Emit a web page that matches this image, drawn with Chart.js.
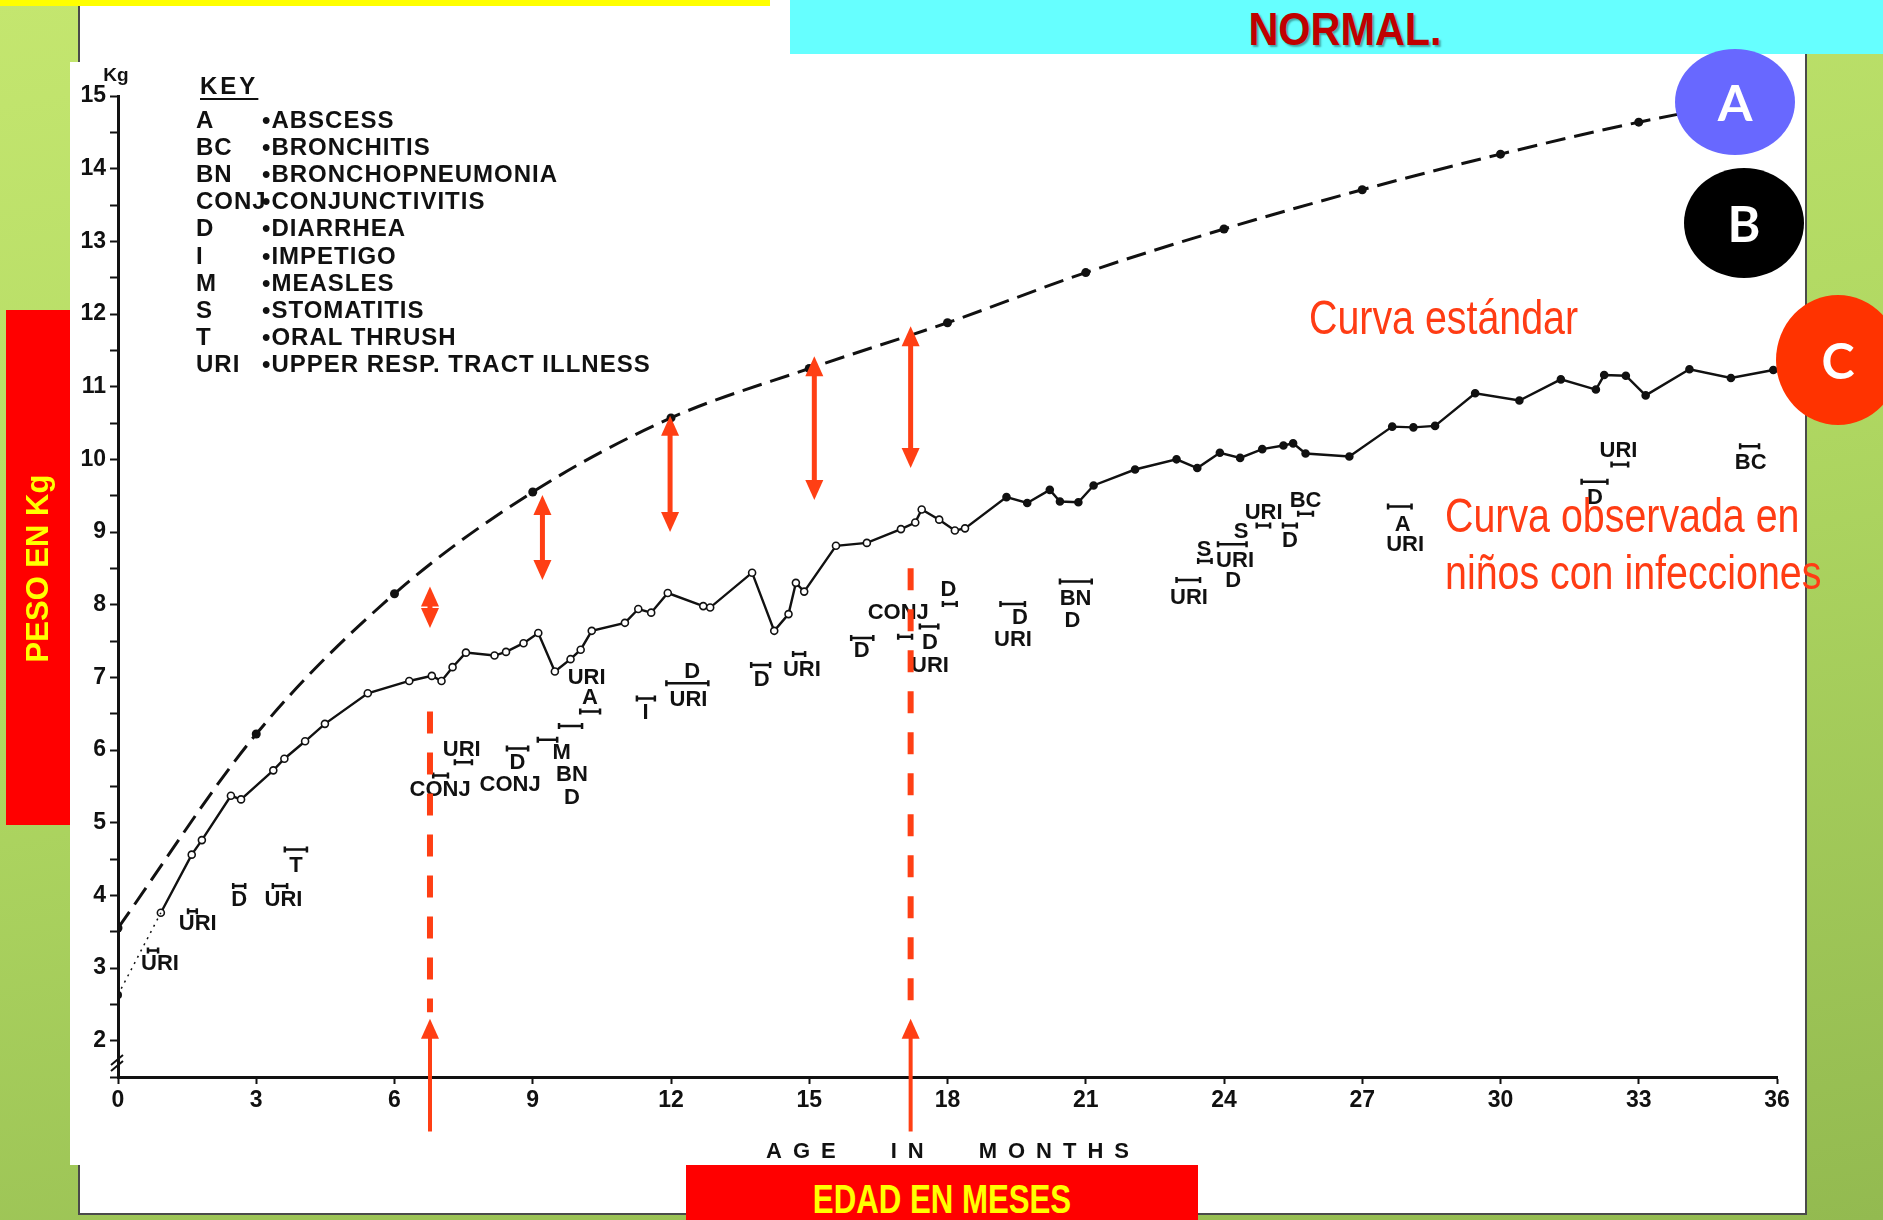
<!DOCTYPE html>
<html>
<head>
<meta charset="utf-8">
<script src="https://cdn.jsdelivr.net/npm/chart.js@4/dist/chart.umd.min.js"></script>
<style>
    html, body { margin: 0; padding: 0; }
    body {
        width: 1883px; height: 1220px; overflow: hidden; position: relative;
        background: linear-gradient(170deg, #c4e66f 0%, #b0d862 45%, #93ba50 100%);
        font-family: "Liberation Sans", Arial, sans-serif;
    }
    .abs { position: absolute; }
    #frame { left: 78px; top: -2px; width: 1725px; height: 1213px; background: #fff; border: 2px solid #4a4a4a; }
    #photo { left: 70px; top: 62px; width: 1735px; height: 1103px; background: #fff; }
    #yellowBar { left: 0; top: 0; width: 770px; height: 6px; background: #ffff00; }
    #cyanBar { left: 790px; top: 0; width: 1093px; height: 54px; background: #66ffff; }
    #normal {
        left: 1195px; top: 2px; width: 300px; text-align: center;
        font: bold 46px "Liberation Sans", sans-serif; transform: scaleX(0.9);
        color: #c00000; text-shadow: 2px 2px 2px rgba(0,0,0,0.35);
    }
    #chartWrap { left: 0; top: 0; width: 1883px; height: 1220px; }
    .key { font: bold 24px "Liberation Sans", sans-serif; letter-spacing: 1px; color: #111; line-height: 27px; }
    #pesoBox { left: 6px; top: 310px; width: 64px; height: 515px; background: #ff0000; }
    #pesoText {
        left: -220px; top: 548px; width: 515px; height: 40px; text-align: center;
        transform: rotate(-90deg); transform-origin: 258px 20px;
        font: bold 31px "Liberation Sans", sans-serif; color: #ffff00; line-height: 40px;
    }
    #edadBox { left: 686px; top: 1165px; width: 512px; height: 60px; background: #ff0000; }
    #edadText { left: 686px; top: 1165px; width: 512px; text-align: center; transform: scaleX(0.78);
        font: bold 40px "Liberation Sans", sans-serif; color: #ffff00; line-height: 68px; }
    .circle { border-radius: 50%; color: #fff; text-align: center;
        font: bold 50px Lato, "Open Sans", sans-serif; }
    .curva { font: 48px "Liberation Sans", sans-serif; color: #ff3c14; white-space: nowrap; line-height: 56px;
        transform: scaleX(0.82); transform-origin: 0 50%; }
</style>
</head>
<body>
<div id="frame" class="abs"></div>
<div id="photo" class="abs"></div>
<div id="yellowBar" class="abs"></div>
<div id="cyanBar" class="abs"></div>
<div id="normal" class="abs">NORMAL.</div>

<div id="chartWrap" class="abs"><canvas id="growthChart" width="1883" height="1220"></canvas></div>

<div id="keyBlock"></div>

<div id="pesoBox" class="abs"></div>
<div id="pesoText" class="abs">PESO EN Kg</div>
<div id="edadBox" class="abs"></div>
<div id="edadText" class="abs">EDAD EN MESES</div>

<div class="abs circle" style="left:1675px;top:49px;width:120px;height:106px;line-height:106px;background:#6868ff;">A</div>
<div class="abs circle" style="left:1684px;top:168px;width:120px;height:110px;line-height:110px;background:#000;">B</div>
<div class="abs circle" style="left:1776px;top:295px;width:124px;height:130px;line-height:130px;background:#ff3300;">C</div>

<div class="abs curva" style="left:1309px;top:290px;">Curva estándar</div>
<div class="abs curva" style="left:1445px;top:488px;">Curva observada en</div>
<div class="abs curva" style="left:1445px;top:545px;">niños con infecciones</div>

<script>
// Standard curve (dashed, filled dots every 3 months)
const standardMonths = [0, 3, 6, 9, 12, 15, 18, 21, 24, 27, 30, 33, 36];
const standardKg = [3.55, 6.22, 8.15, 9.55, 10.57, 11.25, 11.88, 12.57, 13.17, 13.71, 14.2, 14.64, 15.0];

// Observed curve (children with infections)
const birthMonths = [0, 0.93];
const birthKg = [2.63, 3.76];
const observedMonths = [0.93, 1.6, 1.82, 2.45, 2.67, 3.37, 3.61, 4.06, 4.49, 5.42,
    6.32, 6.81, 7.02, 7.26, 7.55, 8.17, 8.42, 8.8, 9.12, 9.48,
    9.82, 10.04, 10.28, 11.0, 11.29, 11.57, 11.93, 12.7, 12.85, 13.76,
    14.24, 14.55, 14.71, 14.89, 15.58, 16.25, 16.99, 17.3, 17.44, 17.82,
    18.16, 18.38, 19.28, 19.73, 20.22, 20.44, 20.84, 21.17, 22.07, 22.97,
    23.42, 23.91, 24.35, 24.83, 25.29, 25.5, 25.77, 26.72, 27.65, 28.11,
    28.58, 29.45, 30.41, 31.31, 32.07, 32.25, 32.72, 33.15, 34.1, 35.0,
    35.92];
const observedKg = [3.76, 4.56, 4.76, 5.37, 5.32, 5.72, 5.88, 6.12, 6.36, 6.78,
    6.95, 7.02, 6.95, 7.14, 7.34, 7.30, 7.35, 7.47, 7.61, 7.08,
    7.25, 7.38, 7.64, 7.75, 7.94, 7.89, 8.16, 7.98, 7.96, 8.44,
    7.64, 7.87, 8.30, 8.18, 8.81, 8.85, 9.04, 9.13, 9.31, 9.17,
    9.02, 9.05, 9.48, 9.40, 9.58, 9.42, 9.41, 9.64, 9.86, 10.0,
    9.88, 10.09, 10.02, 10.14, 10.19, 10.22, 10.08, 10.04, 10.45, 10.44,
    10.46, 10.91, 10.81, 11.10, 10.96, 11.16, 11.15, 10.88, 11.24, 11.12,
    11.23];

// Illness labels (text, month, kg)
const illnessText = ['URI', 'URI', 'D', 'URI', 'T', 'CONJ', 'URI', 'D', 'CONJ', 'M',
    'BN', 'D', 'URI', 'A', 'I', 'D', 'URI', 'D', 'URI', 'D',
    'CONJ', 'D', 'URI', 'D', 'D', 'URI', 'BN', 'D', 'URI', 'S',
    'URI', 'D', 'S', 'URI', 'BC', 'D', 'A', 'URI', 'URI', 'D', 'BC'];
const illnessMonth = [0.91, 1.73, 2.63, 3.59, 3.86, 6.99, 7.46, 8.67, 8.51, 9.63,
    9.85, 9.85, 10.17, 10.24, 11.45, 12.46, 12.38, 13.97, 14.84, 16.14,
    16.93, 17.62, 17.62, 18.02, 19.57, 19.42, 20.78, 20.71, 23.24, 23.57,
    24.24, 24.2, 24.37, 24.86, 25.77, 25.43, 27.88, 27.93, 32.56, 32.05, 35.43];
const illnessKg = [3.05, 3.6, 3.94, 3.94, 4.41, 5.45, 6.0, 5.82, 5.52, 5.96,
    5.65, 5.34, 6.99, 6.71, 6.51, 7.08, 6.69, 6.97, 7.1, 7.36,
    7.88, 7.47, 7.15, 8.2, 7.82, 7.52, 8.08, 7.78, 8.09, 8.76,
    8.6, 8.32, 9.0, 9.26, 9.43, 8.88, 9.1, 8.82, 10.11, 9.47, 9.95];

// Illness duration bars (start month, end month, kg)
const spanStart = [0.65, 1.52, 2.5, 3.36, 3.62, 6.84, 7.31, 8.44, 9.11, 9.57,
    10.03, 11.26, 11.9, 13.74, 14.65, 15.91, 16.93, 17.4, 17.9, 19.15,
    20.44, 22.97, 23.44, 23.87, 24.71, 25.28, 25.61, 27.56, 31.76, 32.41, 35.2];
const spanEnd = [0.87, 1.71, 2.76, 3.67, 4.1, 7.16, 7.68, 8.9, 9.53, 10.07,
    10.46, 11.65, 12.81, 14.15, 14.91, 16.39, 17.23, 17.8, 18.2, 19.68,
    21.13, 23.48, 23.73, 24.49, 25.0, 25.58, 25.93, 28.07, 32.32, 32.77, 35.61];
const spanKg = [3.24, 3.78, 4.13, 4.13, 4.63, 5.65, 5.83, 6.02, 6.14, 6.33,
    6.53, 6.71, 6.92, 7.17, 7.32, 7.54, 7.56, 7.7, 8.01, 8.01,
    8.32, 8.34, 8.6, 8.83, 9.09, 9.09, 9.25, 9.35, 9.69, 9.93, 10.18];

// Red gap arrows between the curves
const gapMonths = [6.77, 9.21, 11.98, 15.11, 17.2];
const gapTopKg = [8.25, 9.51, 10.6, 11.42, 11.83];
const gapBottomKg = [7.68, 8.34, 9.0, 9.44, 9.88];

// Red marker lines at ~7 and ~17 months
const markMonths = [6.77, 17.2];
const markDashTop = [6.53, 8.5];
const markDashBottom = [2.39, 2.36];
const markArrowFrom = 0.75;
const markArrowTo = 2.3;

// Key
const keyCodes = ['A', 'BC', 'BN', 'CONJ', 'D', 'I', 'M', 'S', 'T', 'URI'];
const keyNames = ['ABSCESS', 'BRONCHITIS', 'BRONCHOPNEUMONIA', 'CONJUNCTIVITIS', 'DIARRHEA',
    'IMPETIGO', 'MEASLES', 'STOMATITIS', 'ORAL THRUSH', 'UPPER RESP. TRACT ILLNESS'];

const RED = '#ff3f14';
const INK = '#111';

function buildKey() {
    const holder = document.getElementById('keyBlock');
    let html = '<div class="abs key" style="left:200px;top:72px;letter-spacing:3px;text-decoration:underline;text-underline-offset:4px;">KEY</div>';
    keyCodes.forEach((code, i) => {
        const top = 106 + i * 27.1;
        html += `<div class="abs key" style="left:196px;top:${top}px;">${code}</div>`;
        html += `<div class="abs key" style="left:262px;top:${top}px;">&#8226;${keyNames[i]}</div>`;
    });
    holder.innerHTML = html;
}

function arrowHead(ctx, x, y, dir) {
    // dir = -1 points up, 1 points down
    ctx.beginPath();
    ctx.moveTo(x, y);
    ctx.lineTo(x - 9, y - dir * 20);
    ctx.lineTo(x + 9, y - dir * 20);
    ctx.closePath();
    ctx.fill();
}

const annotatePlugin = {
    id: 'annotate',
    afterDatasetsDraw(chart) {
        const { ctx, scales: { x, y } } = chart;
        ctx.save();

        // illness duration bars
        ctx.strokeStyle = INK;
        ctx.lineWidth = 2.5;
        spanStart.forEach((s, i) => {
            const x0 = x.getPixelForValue(s), x1 = x.getPixelForValue(spanEnd[i]);
            const py = y.getPixelForValue(spanKg[i]);
            ctx.beginPath();
            ctx.moveTo(x0, py); ctx.lineTo(x1, py);
            ctx.moveTo(x0, py - 3); ctx.lineTo(x0, py + 3);
            ctx.moveTo(x1, py - 3); ctx.lineTo(x1, py + 3);
            ctx.stroke();
        });

        // illness labels
        ctx.fillStyle = INK;
        ctx.font = 'bold 22px "Liberation Sans", sans-serif';
        ctx.textAlign = 'center';
        ctx.textBaseline = 'middle';
        illnessText.forEach((t, i) => {
            ctx.fillText(t, x.getPixelForValue(illnessMonth[i]), y.getPixelForValue(illnessKg[i]));
        });

        // Kg unit label and axis break
        ctx.font = 'bold 19px "Liberation Sans", sans-serif';
        ctx.fillText('Kg', x.left - 2, y.top - 20);
        const yb = y.getPixelForValue(1.72);
        ctx.lineWidth = 2;
        ctx.beginPath();
        ctx.moveTo(x.left - 7, yb + 4); ctx.lineTo(x.left + 5, yb - 6);
        ctx.moveTo(x.left - 7, yb + 10); ctx.lineTo(x.left + 5, yb);
        ctx.stroke();
        ctx.restore();
    },
    afterDraw(chart) {
        const { ctx, scales: { x, y } } = chart;
        ctx.save();
        ctx.strokeStyle = RED;
        ctx.fillStyle = RED;

        // double-headed gap arrows
        ctx.lineWidth = 5;
        gapMonths.forEach((m, i) => {
            const px = x.getPixelForValue(m);
            const top = y.getPixelForValue(gapTopKg[i]);
            const bot = y.getPixelForValue(gapBottomKg[i]);
            ctx.beginPath();
            ctx.moveTo(px, top + 16); ctx.lineTo(px, bot - 16);
            ctx.stroke();
            arrowHead(ctx, px, top, -1);
            arrowHead(ctx, px, bot, 1);
        });

        // dashed marker lines with arrows from below the axis
        markMonths.forEach((m, i) => {
            const px = x.getPixelForValue(m);
            ctx.lineWidth = 6;
            ctx.setLineDash([22, 19]);
            ctx.beginPath();
            ctx.moveTo(px, y.getPixelForValue(markDashTop[i]));
            ctx.lineTo(px, y.getPixelForValue(markDashBottom[i]));
            ctx.stroke();
            ctx.setLineDash([]);
            ctx.lineWidth = 4;
            const tip = y.getPixelForValue(markArrowTo);
            ctx.beginPath();
            ctx.moveTo(px, y.getPixelForValue(markArrowFrom));
            ctx.lineTo(px, tip + 16);
            ctx.stroke();
            arrowHead(ctx, px, tip, -1);
        });
        ctx.restore();
    }
};

function pairs(xs, ys) {
    return xs.map((v, i) => ({ x: v, y: ys[i] }));
}

function createChart() {
    const ctx = document.getElementById('growthChart').getContext('2d');
    new Chart(ctx, {
        type: 'line',
        data: {
            datasets: [
                {
                    label: 'Standard',
                    data: pairs(standardMonths, standardKg),
                    borderColor: INK,
                    borderWidth: 3,
                    borderDash: [20, 9],
                    cubicInterpolationMode: 'monotone',
                    pointRadius: 4.5,
                    pointBackgroundColor: INK,
                    pointBorderWidth: 0,
                    fill: false
                },
                {
                    label: 'Birth',
                    data: pairs(birthMonths, birthKg),
                    borderColor: INK,
                    borderWidth: 1.5,
                    borderDash: [2, 5],
                    pointRadius: [4, 0],
                    pointBackgroundColor: INK,
                    pointBorderWidth: 0,
                    fill: false
                },
                {
                    label: 'Observed',
                    data: pairs(observedMonths, observedKg),
                    borderColor: INK,
                    borderWidth: 2.4,
                    tension: 0,
                    pointRadius: 3.5,
                    pointBorderWidth: 1.6,
                    pointBorderColor: INK,
                    pointBackgroundColor: c => (c.raw && c.raw.x > 18.5 ? INK : '#fff'),
                    fill: false
                }
            ]
        },
        options: {
            responsive: false,
            animation: false,
            devicePixelRatio: 1,
            layout: { padding: { left: 58, top: 96, right: 106, bottom: 53 } },
            plugins: { legend: { display: false }, tooltip: { enabled: false } },
            scales: {
                x: {
                    type: 'linear',
                    min: 0,
                    max: 36,
                    afterFit: s => { s.height = 90; },
                    ticks: {
                        stepSize: 3,
                        autoSkip: false,
                        maxRotation: 0,
                        padding: 3,
                        color: INK,
                        font: { family: '"Liberation Sans", sans-serif', size: 23, weight: 'bold' }
                    },
                    grid: { drawOnChartArea: false, tickLength: 7, tickWidth: 2, color: INK },
                    border: { color: INK, width: 3 },
                    title: {
                        display: true,
                        text: 'A\u2002G\u2002E\u2002\u2002\u2002\u2002\u2002I\u2002N\u2002\u2002\u2002\u2002\u2002M\u2002O\u2002N\u2002T\u2002H\u2002S',
                        color: INK,
                        font: { family: '"Liberation Sans", sans-serif', size: 22, weight: 'bold' },
                        padding: { top: 0, bottom: 2 }
                    }
                },
                y: {
                    min: 1.5,
                    max: 15,
                    afterFit: s => { s.width = 60; },
                    ticks: {
                        stepSize: 0.5,
                        autoSkip: false,
                        padding: 4,
                        color: INK,
                        font: { family: '"Liberation Sans", sans-serif', size: 23, weight: 'bold' },
                        callback: v => (v >= 2 && Number.isInteger(v) ? v : '')
                    },
                    grid: { drawOnChartArea: false, tickLength: 8, tickWidth: 2, color: INK },
                    border: { color: INK, width: 3 }
                }
            }
        },
        plugins: [annotatePlugin]
    });
}

document.addEventListener('DOMContentLoaded', () => {
    buildKey();
    createChart();
});
</script>
</body>
</html>
